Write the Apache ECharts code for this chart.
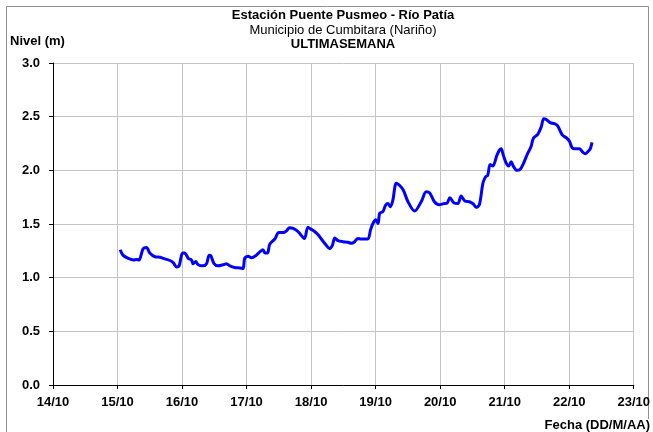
<!DOCTYPE html>
<html>
<head>
<meta charset="utf-8">
<script src="https://cdn.jsdelivr.net/npm/echarts@6/dist/echarts.min.js"></script>
<style>
  html, body { margin: 0; padding: 0; background: #fff; }
  #chart { width: 653px; height: 432px; }
</style>
</head>
<body>
<div id="chart"></div>
<script>
// Etiquetas de fecha del eje X (un día por división)
var fechas = ['14/10', '15/10', '16/10', '17/10', '18/10', '19/10', '20/10', '21/10', '22/10', '23/10'];

// Horas contadas desde el 15/10 a las 00:00
var horas = [
  1, 2, 4, 6, 7, 8, 9.5, 10.8, 12, 13.9, 15.8, 17.6, 19.5, 20.7, 22, 22.9,
  24.2, 25, 26.3, 27.5, 28.1, 29.1, 30, 31.8, 33.1, 34.1, 34.7, 35.9, 37.4,
  39.3, 40.5, 41.8, 43.6, 45.5, 46.7, 47.3, 48.6, 49.8, 51.7, 52.9, 54.1,
  54.8, 55.8, 56.6, 58.5, 60, 61.6, 62.8, 64, 65.3, 67.1, 69, 69.6, 70.8,
  72.1, 73.3, 74.6, 75.8, 77.7, 78.9, 79.9, 80.8, 82, 83.8, 85.7, 87, 88.2,
  89.4, 90.7, 93.1, 94.1, 95, 96, 96.9, 97.5, 98.7, 99.7, 100.6, 101.5,
  102.4, 103.7, 105.3, 106.4, 108, 110.5, 113, 114.8, 116.1, 117.8, 119.6,
  121.3, 122.6, 123.6, 125.2, 126.6, 127.8, 129.2, 131.1, 132.4, 133.4,
  134.6, 135.9, 136.9, 137.7, 138.6, 139.6, 141.1, 142.1, 142.7, 143.5,
  144.6, 145.5, 146.4, 147.3, 148.5, 149.8, 151, 152.6, 153.8, 154.7, 156.3,
  157.6, 158.5, 159.4, 160.9, 162.5, 163.7, 165.4, 167.1, 168.1, 169.1,
  170.3, 171.8, 173, 174, 175.2, 175.9, 176.5
];

// Nivel del río (m)
var nivel = [
  1.26, 1.21, 1.18, 1.165, 1.17, 1.165, 1.27, 1.28, 1.23, 1.195, 1.19, 1.175, 1.16, 1.14, 1.10, 1.11,
  1.23, 1.23, 1.18, 1.165, 1.13, 1.15, 1.12, 1.11, 1.13, 1.21, 1.205, 1.13, 1.11,
  1.12, 1.13, 1.11, 1.095, 1.09, 1.085, 1.18, 1.20, 1.185, 1.21, 1.24, 1.26,
  1.23, 1.23, 1.31, 1.36, 1.42, 1.42, 1.435, 1.465, 1.46, 1.43, 1.375, 1.365, 1.47,
  1.45, 1.43, 1.40, 1.36, 1.30, 1.27, 1.30, 1.37, 1.345, 1.335, 1.33, 1.32, 1.335,
  1.365, 1.36, 1.36, 1.445, 1.505, 1.54, 1.505, 1.60, 1.615, 1.675, 1.69, 1.66,
  1.72, 1.88, 1.85, 1.81, 1.71, 1.62, 1.71, 1.80, 1.79, 1.71, 1.68,
  1.69, 1.695, 1.745, 1.695, 1.69, 1.76, 1.715, 1.705, 1.685, 1.655,
  1.68, 1.88, 1.94, 1.955, 2.055, 2.04, 2.14, 2.19, 2.20, 2.14,
  2.065, 2.04, 2.08, 2.035, 2.00, 2.01, 2.065, 2.16, 2.22, 2.30, 2.335,
  2.405, 2.48, 2.475, 2.445, 2.435, 2.415, 2.33, 2.30, 2.27, 2.21,
  2.20, 2.20, 2.17, 2.155, 2.18, 2.205, 2.26
];

// Pares [horas desde 14/10, nivel]
var serie = horas.map(function (h, i) { return [h + 24, nivel[i]]; });

var gris = '#c4c4c4';
var fuente = '"Liberation Sans", Arial, sans-serif';

function texto(size, weight) {
  return { fontSize: size, fontWeight: weight, color: '#000', fontFamily: fuente };
}

var chart = echarts.init(document.getElementById('chart'), null, { renderer: 'canvas' });
chart.setOption({
  animation: false,
  backgroundColor: '#fff',
  textStyle: { fontFamily: fuente },
  title: [
    { text: 'Estación Puente Pusmeo - Río Patía', left: 343, top: 9, padding: 0,
      textAlign: 'center', textStyle: texto(13, 'bold') },
    { text: 'Municipio de Cumbitara (Nariño)', left: 343, top: 24, padding: 0,
      textAlign: 'center', textStyle: texto(13, 'normal') },
    { text: 'ULTIMASEMANA', left: 343, top: 38, padding: 0,
      textAlign: 'center', textStyle: texto(13, 'bold') },
    { text: 'Nivel (m)', left: 10, top: 35, padding: 0, textStyle: texto(13, 'bold') },
    { text: 'Fecha (DD/M/AA)', right: 3, top: 419, padding: 0,
      backgroundColor: '#fff', textStyle: texto(13, 'bold') }
  ],
  graphic: [
    {
      type: 'rect',
      left: 4, top: 4, z: -1,
      shape: { x: 0.5, y: 0.5, width: 642, height: 426 },
      style: { fill: 'none', stroke: '#909090', lineWidth: 1 },
      silent: true
    }
  ],
  grid: { left: 53, right: 19, top: 63, bottom: 47, containLabel: false },
  xAxis: {
    type: 'value',
    min: 0, max: 216, interval: 24,
    axisLine: { show: true, onZero: false, lineStyle: { color: '#000', width: 1 } },
    axisTick: { show: true, length: 4, lineStyle: { color: '#000' } },
    axisLabel: Object.assign({
      margin: 11,
      formatter: function (v) { return fechas[Math.round(v / 24)]; }
    }, texto(13, 'bold')),
    splitLine: { show: true, lineStyle: { color: gris, width: 1 } }
  },
  yAxis: {
    type: 'value',
    min: 0, max: 3, interval: 0.5,
    axisLine: { show: true, lineStyle: { color: '#000', width: 1 } },
    axisTick: { show: true, length: 4, lineStyle: { color: '#000' } },
    axisLabel: Object.assign({
      margin: 13,
      formatter: function (v) { return v.toFixed(1); }
    }, texto(13, 'bold')),
    splitLine: { show: true, lineStyle: { color: gris, width: 1 } }
  },
  series: [
    {
      type: 'line',
      data: serie,
      showSymbol: false,
      smooth: 0.3,
      lineStyle: { color: '#0000ff', width: 3 },
      itemStyle: { color: '#0000ff' }
    }
  ]
});
</script>
</body>
</html>
